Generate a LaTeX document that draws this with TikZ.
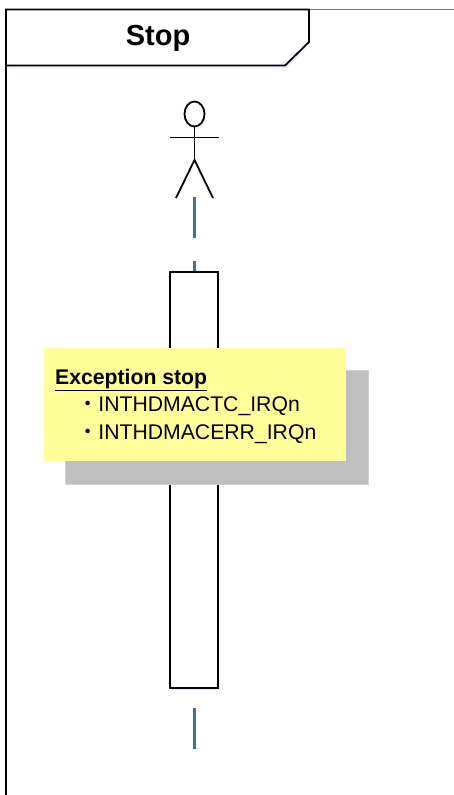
\documentclass[tikz,border=0pt]{standalone}
\usepackage{fontspec}
\setmainfont{Liberation Sans}
\newfontfamily\cjk{Noto Sans CJK JP}
\usepackage{tikz}
\usetikzlibrary{positioning,shadows,shapes}
\definecolor{notefill}{HTML}{FFFF99}
\definecolor{notegray}{HTML}{BFBFBF}
\definecolor{lifeblue}{HTML}{41719C}
\tikzset {
    style line/.style={
        draw=black,
        line width=1.8pt,
    },
    style soft/.style={
        drop shadow={shadow xshift=1.5pt, shadow yshift=-3pt, fill=blue!30!white, opacity=.18},
    },
    style box/.style={
        style line,
        style soft,
        fill=white,
        rectangle, % Set the shape as a rectangle
        minimum width=48pt,
        minimum height=416pt,
    },
    style head/.style={
        style line,
        style soft,
        fill=white,
        ellipse,
        inner sep=0pt,
        minimum width=20pt,
        minimum height=25pt,
    },
    style back/.style={
        fill=notegray,
        draw=notegray!70!white,
        line width=1pt,
        rectangle, % Set the shape as a rectangle
        minimum width=303pt,
        minimum height=114pt,
    },
    style note/.style={
        fill=notefill,
        rectangle, % Set the shape as a rectangle
        minimum width=302pt,
        minimum height=113pt,
        inner sep=0pt,
    },
    style life/.style={
        draw=lifeblue,
        line width=2.4pt,
    },
}

\begin{document}
\begin{tikzpicture}[x=1pt, y=-1pt]
    \useasboundingbox (0,0) rectangle (454,795);
    % frame and title tab
    \draw[draw=black!55, line width=1pt] (309,9.5) -- (454,9.5);
    \draw[style line] (6,795) -- (6,65.5);
    \draw[style line, style soft, fill=white] (6,9.5) -- (309,9.5) -- (309,42) -- (285,65.5) -- (6,65.5) -- cycle;
    \node[font=\bfseries\fontsize{29}{34}\selectfont] (title) at (158,38) {Stop};
    % actor
    \node[style head] (head) at (194.5,114) {};
    \coordinate (hip) at (194.5,160);
    \coordinate (arm left) at (170,137.5);
    \coordinate (arm right) at (219,137.5);
    \coordinate (foot left) at (176,198);
    \coordinate (foot right) at (213,198);
    \draw[style line] (head.south) -- (hip);
    \draw[style line] (arm left) -- (arm right);
    \draw[style line] (foot left) -- (hip) -- (foot right);
    % lifeline
    \node[style box] (bar) at (194,480) {};
    \coordinate (life top) at (194.5,197);
    \coordinate (life end) at (194.5,749);
    \draw[style life, dash pattern=on 41pt off 23pt] (life top) -- (bar.north -| life top);
    \draw[style life, dash pattern=on 41pt off 23pt, dash phase=45pt] (bar.south -| life top) -- (life end);
    % exception note
    \node[style back] (back) at (217,427.5) {};
    \node[style note] (note) at (195,404.5) {};
    \node[font=\fontsize{21.2}{27.5}\selectfont, align=left, anchor=north west, inner sep=0pt] (note text) at (55,368.5) {%
        \textbf{\underline{Exception stop}}\\
        \hspace*{22pt}{\cjk ・}INTHDMACTC\_IRQn\\
        \hspace*{22pt}{\cjk ・}INTHDMACERR\_IRQn};
\end{tikzpicture}
\end{document}
